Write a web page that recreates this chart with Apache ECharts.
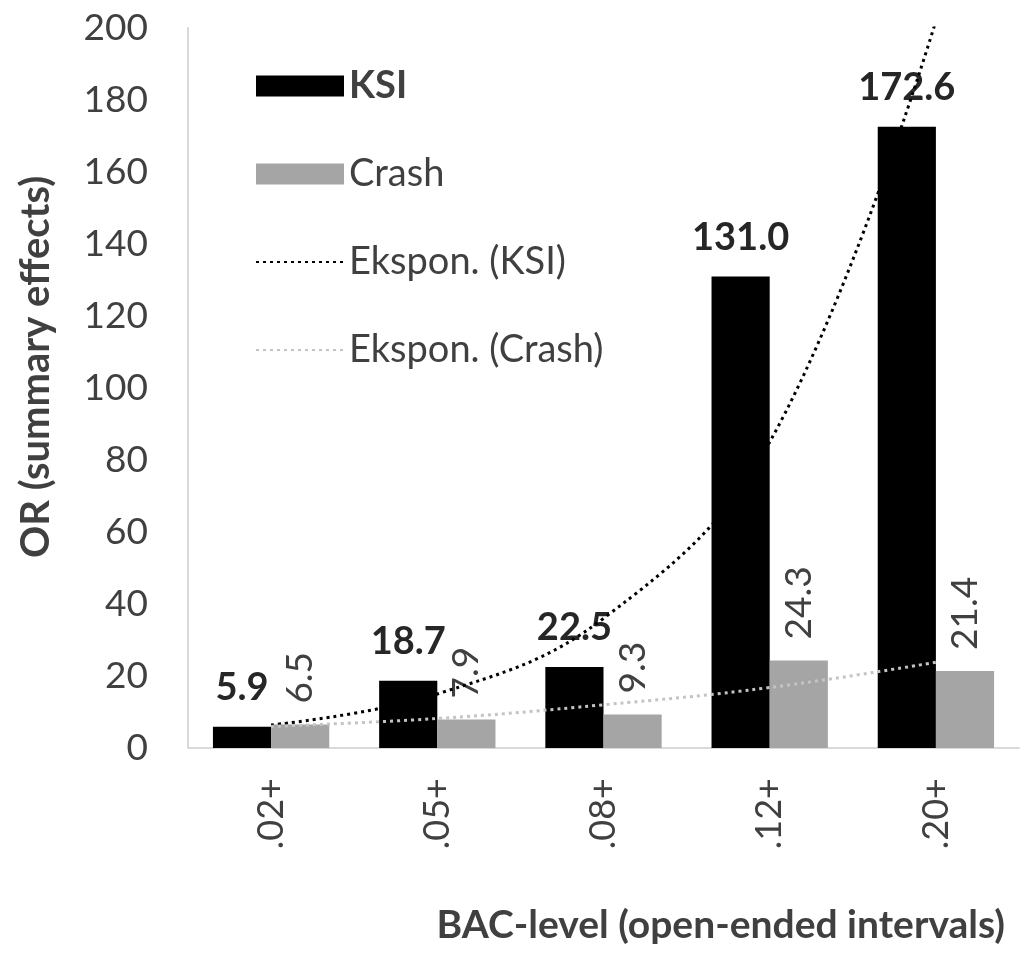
<!DOCTYPE html>
<html>
<head>
<meta charset="utf-8">
<script src="https://cdn.jsdelivr.net/npm/echarts@6/dist/echarts.min.js"></script>
<style>
  html, body { margin: 0; padding: 0; background: #fff; }
  #main { width: 1030px; height: 953px; }
</style>
</head>
<body>
<div id="main"></div>
<script>
// data
const categories = [".02+", ".05+", ".08+", ".12+", ".20+"];
const ksi = [5.9, 18.7, 22.5, 131.0, 172.6];
const crash = [6.5, 7.9, 9.3, 24.3, 21.4];
// exponential trendlines, read at each category
const trendKsi = [6.4, 15, 36, 85, 202];
const trendCrash = [6, 8.2, 12, 16.8, 23.8];
const yTicks = [0, 20, 40, 60, 80, 100, 120, 140, 160, 180, 200];

const font = "Lato";
const dark = "#404040";

const chart = echarts.init(document.getElementById("main"));
const option = {
  animation: false,
  backgroundColor: "#fff",
  title: {
    text: "BAC-level (open-ended intervals)",
    right: 20,
    top: 901,
    textStyle: { fontFamily: font, fontWeight: "bold", fontSize: 39, color: dark },
  },
  legend: {
    orient: "vertical",
    left: 250,
    top: 60,
    itemWidth: 88,
    itemHeight: 21,
    itemGap: 46,
    textStyle: { fontFamily: font, fontSize: 38, color: dark, lineHeight: 42 },
    data: [
      { name: "KSI", icon: "rect", textStyle: { fontWeight: "bold" } },
      { name: "Crash", icon: "rect" },
      { name: "Ekspon. (KSI)", itemStyle: { opacity: 0, color: "rgba(0,0,0,0)", borderWidth: 0 } },
      { name: "Ekspon. (Crash)", itemStyle: { opacity: 0, color: "rgba(0,0,0,0)", borderWidth: 0 } },
    ],
  },
  grid: { left: 188, right: 11, top: 28, bottom: 205 },
  xAxis: {
    type: "category",
    data: categories,
    axisLine: { lineStyle: { color: "#d9d9d9", width: 2 } },
    axisTick: { show: false },
    axisLabel: {
      rotate: 90,
      margin: 30,
      fontFamily: font,
      fontSize: 36,
      color: dark,
    },
  },
  yAxis: {
    type: "value",
    min: 0,
    max: 200,
    interval: 20,
    name: "OR (summary effects)",
    nameLocation: "middle",
    nameGap: 132,
    nameTextStyle: {
      fontFamily: font,
      fontWeight: "bold",
      fontSize: 40,
      color: dark,
      padding: [0, 0, 0, 42],
    },
    axisLine: { show: true, lineStyle: { color: "#d9d9d9", width: 2 } },
    axisTick: { show: false },
    splitLine: { show: false },
    axisLabel: {
      margin: 40,
      fontFamily: font,
      fontSize: 37,
      color: dark,
      formatter: (v) => (yTicks.includes(v) ? String(v) : ""),
    },
  },
  series: [
    {
      name: "KSI",
      type: "bar",
      data: ksi,
      barGap: "0%",
      barCategoryGap: "30%",
      itemStyle: { color: "#000000" },
      label: {
        show: true,
        position: "top",
        distance: 20,
        fontFamily: font,
        fontWeight: "bold",
        fontSize: 38,
        color: "#262626",
        formatter: (p) => p.value.toFixed(1),
      },
    },
    {
      name: "Crash",
      type: "bar",
      data: crash,
      itemStyle: { color: "#a5a5a5" },
      label: {
        show: true,
        position: "top",
        distance: 21,
        rotate: 90,
        align: "left",
        verticalAlign: "middle",
        fontFamily: font,
        fontSize: 37,
        color: dark,
        formatter: (p) => p.value.toFixed(1),
      },
    },
    {
      name: "Ekspon. (KSI)",
      type: "line",
      data: trendKsi,
      smooth: 0.4,
      symbol: "none",
      z: 5,
      lineStyle: { color: "#000000", width: 3, type: [3, 4] },
      itemStyle: { color: "#000000" },
    },
    {
      name: "Ekspon. (Crash)",
      type: "line",
      data: trendCrash,
      smooth: 0.4,
      symbol: "none",
      z: 5,
      lineStyle: { color: "#c4c4c4", width: 3, type: [3, 4] },
      itemStyle: { color: "#c4c4c4" },
    },
  ],
};
chart.setOption(option);
</script>
</body>
</html>
